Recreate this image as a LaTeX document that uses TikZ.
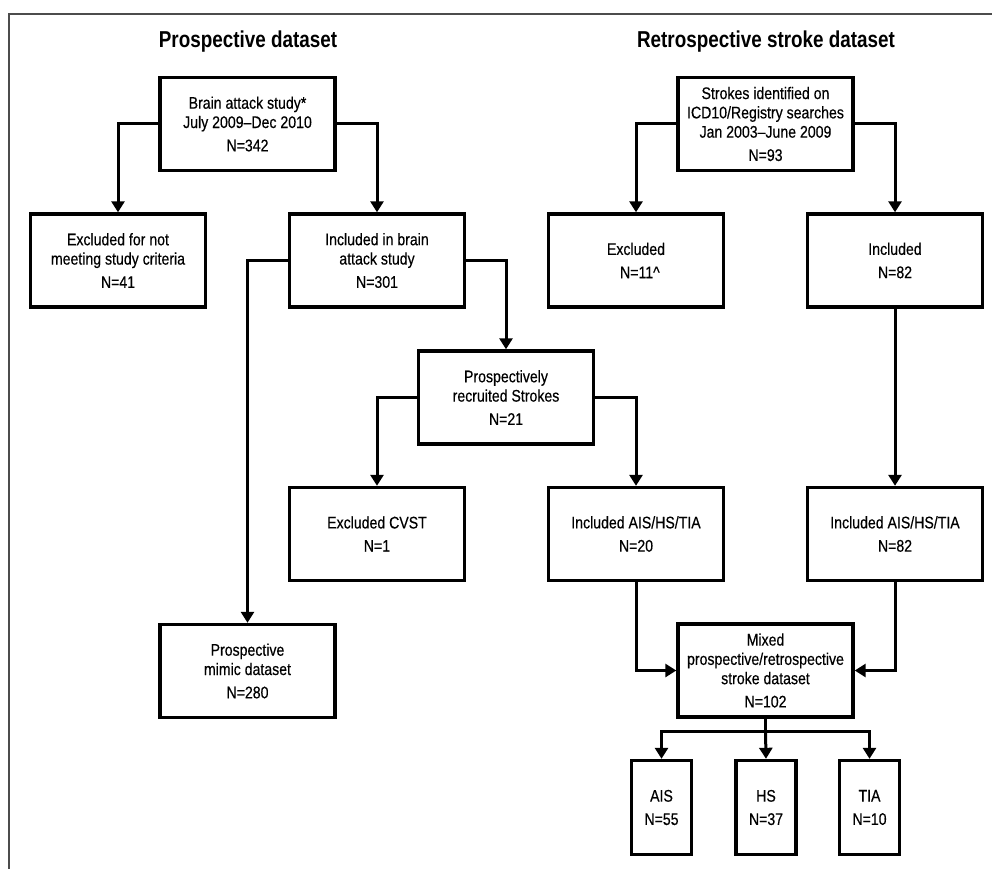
\documentclass[tikz,border=0pt]{standalone}
\usepackage{fontspec}
\setmainfont{Liberation Sans}[FakeStretch=0.84, FakeBold=0.4]
\newfontfamily\titlefont{Liberation Sans}[FakeStretch=0.82]
\usetikzlibrary{arrows.meta}
\tikzset{
  box/.style={draw=black, line width=3.4pt, minimum width=175pt, minimum height=93pt, inner sep=0pt, align=center, font=\fontsize{16.8}{19.3}\selectfont},
  smallbox/.style={box, minimum width=60pt, minimum height=94pt},
  conn/.style={line width=3pt, -{Triangle[width=13pt,length=11pt]}},
  plainconn/.style={line width=3pt},
  heading/.style={font=\titlefont\fontsize{23}{27}\selectfont\bfseries, inner sep=0pt},
  frame/.style={draw=black!70, line width=1.5pt}
}
\begin{document}
\begin{tikzpicture}[x=1pt,y=-1pt]
\useasboundingbox (0,0) rectangle (992,869);
\fill[white] (0,0) rectangle (992,869);
\draw[frame] (9,869) -- (9,14) -- (992,14);

\node[heading] (t1) at (248,42) {Prospective dataset};
\node[heading] (t2) at (766,42) {Retrospective stroke dataset};

\node[box] (brain) at (247.5,124) {Brain attack study*\\July 2009--Dec 2010\\[4pt]N=342};
\node[box] (excl1) at (118,260.5) {Excluded for not\\meeting study criteria\\[4pt]N=41};
\node[box] (incl1) at (377,260.5) {Included in brain\\attack study\\[4pt]N=301};

\node[box] (strokes) at (765.5,124) {Strokes identified on\\ICD10/Registry searches\\Jan 2003--June 2009\\[4pt]N=93};
\node[box] (excl2) at (636,260.5) {Excluded\\[4pt]\ \ N=11\textasciicircum};
\node[box] (incl2) at (895,260.5) {Included\\[4pt]N=82};

\node[box] (prosp) at (506,397.5) {Prospectively\\recruited Strokes\\[4pt]N=21};
\node[box] (cvst) at (377,534) {Excluded CVST\\[4pt]N=1};
\node[box] (ais20) at (636,534) {Included AIS/HS/TIA\\[4pt]N=20};
\node[box] (ais82) at (895,534) {Included AIS/HS/TIA\\[4pt]N=82};

\node[box] (mimic) at (247.5,671) {Prospective\\mimic dataset\\[4pt]N=280};
\node[box] (mixed) at (765.5,670.5) {Mixed\\prospective/retrospective\\stroke dataset\\[4pt]N=102};

\node[smallbox] (ais) at (661.5,807.5) {AIS\\[4pt]N=55};
\node[smallbox] (hs) at (766,807.5) {HS\\[4pt]N=37};
\node[smallbox] (tia) at (869.5,807.5) {TIA\\[4pt]N=10};

\draw[conn] (brain.west) -| (excl1.north);
\draw[conn] (brain.east) -| (incl1.north);
\draw[conn] (strokes.west) -| (excl2.north);
\draw[conn] (strokes.east) -| (incl2.north);
\draw[conn] (incl1.east) -| (prosp.north);
\draw[conn] (incl1.west) -| (mimic.north);
\draw[conn] (prosp.west) -| (cvst.north);
\draw[conn] (prosp.east) -| (ais20.north);
\draw[conn] (incl2.south) -- (ais82.north);
\draw[conn] (ais20.south) |- (mixed.west);
\draw[conn] (ais82.south) |- (mixed.east);
\coordinate (split) at (765.5,731);
\draw[plainconn] (mixed.south) -- (split);
\draw[conn] (split) -| (ais.north);
\draw[conn] (split) -- (hs.north);
\draw[conn] (split) -| (tia.north);
\end{tikzpicture}
\end{document}
